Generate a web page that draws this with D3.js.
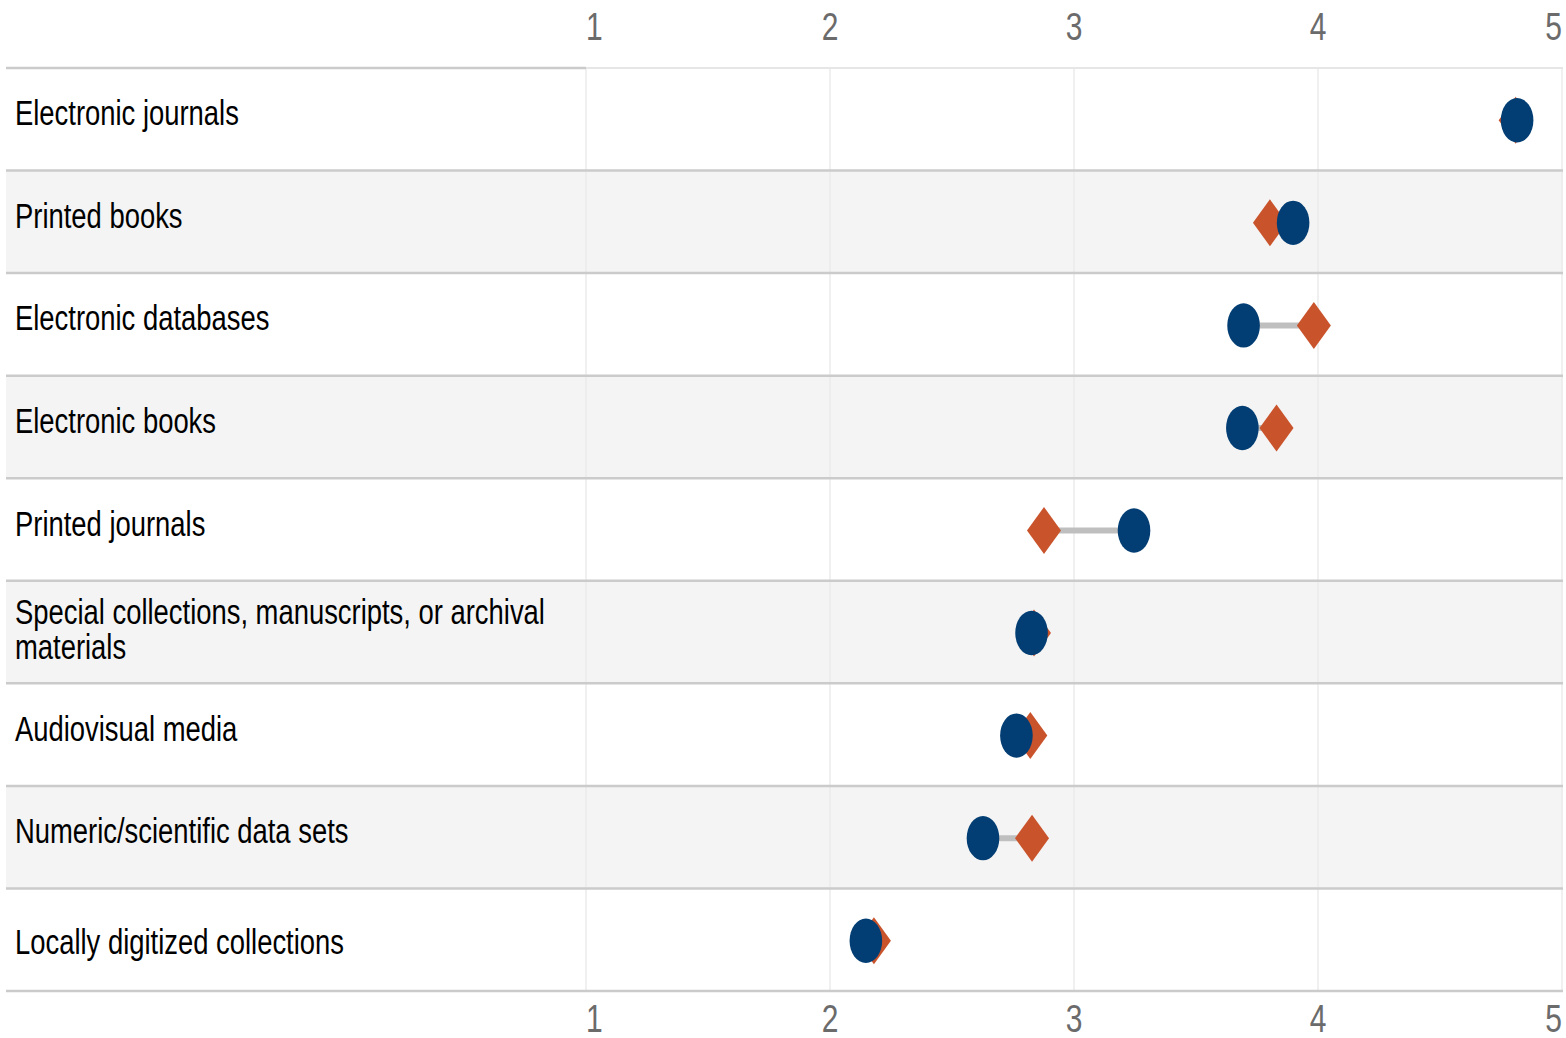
<!DOCTYPE html>
<html>
<head>
<meta charset="utf-8">
<script src="https://cdn.jsdelivr.net/npm/d3@7"></script>
<style>
  html, body { margin: 0; padding: 0; background: #ffffff; }
  svg { display: block; }
</style>
</head>
<body>
<svg id="chart" width="1566" height="1038"></svg>
<script>
const categories = [
  "Electronic journals",
  "Printed books",
  "Electronic databases",
  "Electronic books",
  "Printed journals",
  "Special collections, manuscripts, or archival materials",
  "Audiovisual media",
  "Numeric/scientific data sets",
  "Locally digitized collections"
];
const labelLines = [
  ["Electronic journals"],
  ["Printed books"],
  ["Electronic databases"],
  ["Electronic books"],
  ["Printed journals"],
  ["Special collections, manuscripts, or archival", "materials"],
  ["Audiovisual media"],
  ["Numeric/scientific data sets"],
  ["Locally digitized collections"]
];
const circleValues  = [4.816, 3.898, 3.695, 3.69, 3.246, 2.826, 2.764, 2.627, 2.147];
const diamondValues = [4.81, 3.803, 3.983, 3.83, 2.877, 2.836, 2.821, 2.828, 2.18];
const tickValues = [1, 2, 3, 4, 5];

(function () {
const mLeft = 6, plotLeft = 586, plotRight = 1562, mTop = 68, mBottom = 991;
const SY = 1.28; // vertical text stretch
const blue = "#023e73", orange = "#c9532b";

const svg = d3.select("#chart");
const x = d3.scaleLinear().domain([1, 5]).range([plotLeft, plotRight]);
const y = d3.scaleBand().domain(categories).range([mTop, mBottom]).padding(0);

// alternating row backgrounds
svg.append("g").selectAll("rect").data(categories).join("rect")
  .attr("x", mLeft).attr("y", d => y(d))
  .attr("width", plotRight + 1 - mLeft).attr("height", y.bandwidth())
  .attr("fill", (d, i) => i % 2 === 1 ? "#f4f4f4" : "#ffffff");

// vertical gridlines
svg.append("g").selectAll("line").data(tickValues).join("line")
  .attr("x1", d => x(d)).attr("x2", d => x(d))
  .attr("y1", mTop).attr("y2", mBottom)
  .attr("stroke", "#ebebeb").attr("stroke-width", 1.5);

// row separators
const seps = categories.slice(1).map(c => y(c));
svg.append("g").selectAll("line").data(seps).join("line")
  .attr("x1", mLeft).attr("x2", plotRight + 1)
  .attr("y1", d => d).attr("y2", d => d)
  .attr("stroke", "#cbcbcb").attr("stroke-width", 2.5);
// top border
svg.append("line").attr("x1", mLeft).attr("x2", plotLeft).attr("y1", mTop).attr("y2", mTop)
  .attr("stroke", "#cbcbcb").attr("stroke-width", 2.5);
svg.append("line").attr("x1", plotLeft).attr("x2", plotRight + 1).attr("y1", mTop).attr("y2", mTop)
  .attr("stroke", "#e6e6e6").attr("stroke-width", 2);
// bottom border
svg.append("line").attr("x1", mLeft).attr("x2", plotRight + 1).attr("y1", mBottom).attr("y2", mBottom)
  .attr("stroke", "#cbcbcb").attr("stroke-width", 2.5);

// category labels
const lab = svg.append("g").selectAll("text").data(categories).join("text")
  .attr("transform", (d, i) => {
    const n = labelLines[i].length;
    let ty = y(d) + y.bandwidth() / 2 + 6 - (n - 1) * 17.5;
    if (n > 1) ty += 3;
    if (i === categories.length - 1) ty += 8;
    return `translate(15,${ty}) scale(1,${SY})`;
  })
  .attr("font-family", "'Liberation Sans', Arial, sans-serif")
  .attr("font-size", 27.4).attr("fill", "#000");
lab.each(function (d, i) {
  d3.select(this).selectAll("tspan").data(labelLines[i]).join("tspan")
    .attr("x", 0).attr("dy", (t, j) => j === 0 ? 0 : 35 / SY)
    .text(t => t);
});

// tick labels top & bottom
function tickLabels(baseline) {
  svg.append("g").selectAll("text").data(tickValues).join("text")
    .attr("transform", d => `translate(${x(d)},${baseline}) scale(1,${SY})`)
    .attr("text-anchor", (d, i) => i === 0 ? "start" : (i === tickValues.length - 1 ? "end" : "middle"))
    .attr("font-family", "'Liberation Sans', Arial, sans-serif")
    .attr("font-size", 30).attr("fill", "#6b6b6b")
    .text(d => d);
}
tickLabels(39.5);
tickLabels(1032);

// dumbbell connectors
const rows = categories.map((c, i) => ({ c, a: circleValues[i], b: diamondValues[i] }));
const cy = d => y(d.c) + y.bandwidth() / 2 + 1;
svg.append("g").selectAll("line").data(rows).join("line")
  .attr("x1", d => x(d.a)).attr("x2", d => x(d.b))
  .attr("y1", cy).attr("y2", cy)
  .attr("stroke", "#bfbfbf").attr("stroke-width", 6);

// diamonds
const dw = 17, dh = 23.5;
svg.append("g").selectAll("path").data(rows).join("path")
  .attr("d", d => {
    const px = x(d.b), py = cy(d);
    return `M${px},${py - dh}L${px + dw},${py}L${px},${py + dh}L${px - dw},${py}Z`;
  })
  .attr("fill", orange);

// circles (ellipses due to stretch)
svg.append("g").selectAll("ellipse").data(rows).join("ellipse")
  .attr("cx", d => x(d.a)).attr("cy", cy)
  .attr("rx", 16.3).attr("ry", 22.2)
  .attr("fill", blue);
})();
</script>
</body>
</html>
